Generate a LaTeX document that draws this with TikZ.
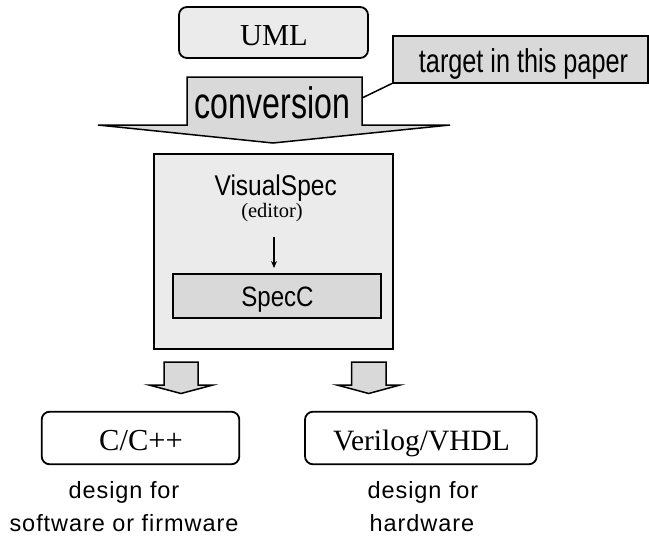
\documentclass[tikz,border=0pt]{standalone}
\usepackage{fontspec}
\usetikzlibrary{arrows.meta}
\setmainfont{Liberation Serif}
\newfontfamily\convsans[FakeStretch=0.73]{Liberation Sans}
\newfontfamily\targetsans[FakeStretch=0.765]{Liberation Sans}
\newfontfamily\plainsans[FakeStretch=0.86]{Liberation Sans}
\newfontfamily\notesans[LetterSpace=4]{Liberation Sans}
\definecolor{boxgray}{HTML}{D9D9D9}
\definecolor{lightgray}{HTML}{EBEBEB}
\begin{document}
\begin{tikzpicture}[x=1pt,y=-1pt,
  rbox/.style={draw=black,line width=1.8pt,rounded corners=8pt},
  sbox/.style={draw=black,line width=1.2pt},
  blockarrow/.style={draw=black,line width=1.5pt,fill=boxgray,line join=miter},
  lbl/.style={inner sep=0pt,anchor=base},
  note/.style={lbl,font=\notesans\fontsize{23.5}{23.5}\selectfont}]
\useasboundingbox (0,0) rectangle (649,539);
% UML
\draw[rbox,fill=lightgray] (179,7) rectangle (368,58);
\node[lbl,font=\fontsize{30.5}{30.5}\selectfont] (uml) at (274,45.5) {UML};
% conversion arrow
\draw[blockarrow] (187,77) -- (362,77) -- (362,125) -- (450,125) -- (273,143) -- (98,125) -- (187,125) -- cycle;
\node[lbl,font=\convsans\fontsize{44}{44}\selectfont] (conv) at (272.5,118) {conversion};
% target note
\draw[sbox,fill=boxgray] (393,36) rectangle (648,83);
\node[lbl,font=\targetsans\fontsize{33}{33}\selectfont] (target) at (523.5,72.5) {target in this paper};
\coordinate (tl) at (393,83);
\coordinate (cr) at (362,98);
\draw[line width=1.5pt] (cr) -- (tl);
% VisualSpec box
\draw[sbox,fill=lightgray] (154,154) rectangle (393,349);
\node[lbl,font=\plainsans\fontsize{28.5}{28.5}\selectfont] (vs) at (275.7,195.5) {VisualSpec};
\node[lbl,font=\fontsize{20.5}{20.5}\selectfont] (ed) at (272,217) {(editor)};
\draw[sbox,fill=boxgray] (173,274) rectangle (381,318);
\node[lbl,font=\plainsans\fontsize{28}{28}\selectfont] (specc) at (277.5,306.7) {SpecC};
\coordinate (a1) at (274,237);
\coordinate (a2) at (274,268);
\draw[line width=1.5pt,-{Stealth[length=7pt,width=6pt]}] (a1) -- (a2);
% block arrows
\draw[blockarrow] (164,362) -- (198,362) -- (198,385) -- (213,385) -- (181,393.5) -- (149,385) -- (164,385) -- cycle;
\draw[blockarrow] (351.5,362) -- (386,362) -- (386,385) -- (400,385) -- (368.7,393.5) -- (337,385) -- (351.5,385) -- cycle;
% outputs
\draw[rbox,fill=white] (41.7,411.7) rectangle (239.3,464.3);
\node[lbl,font=\fontsize{30.5}{30.5}\selectfont] (cpp) at (141,450) {C/C++};
\draw[rbox,fill=white] (305,411.7) rectangle (536.7,464.3);
\node[lbl,font=\fontsize{29.5}{29.5}\selectfont] (vhdl) at (421.5,450) {Verilog/VHDL};
% notes
\node[note] (n1a) at (124,498.3) {design for};
\node[note] (n1b) at (124,531.7) {software or firmware};
\node[note] (n2a) at (423,498.3) {design for};
\node[note] (n2b) at (422,531.7) {hardware};
\end{tikzpicture}
\end{document}
